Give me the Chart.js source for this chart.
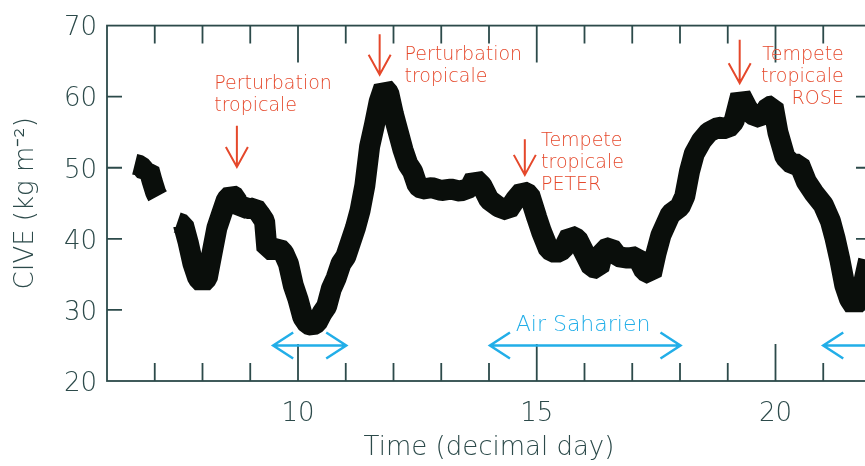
<!DOCTYPE html>
<html>
<head>
<meta charset="utf-8">
<script src="https://cdn.jsdelivr.net/npm/chart.js@4"></script>
<style>
  html, body { margin: 0; padding: 0; background: #fff; overflow: hidden; }
  #wrap { width: 880px; height: 466px; }
</style>
</head>
<body>
<div id="wrap"><canvas id="civeChart" width="880" height="466"></canvas></div>
<script>
/* ---------- Data ---------- */
const DAYS = [
  6.58, 6.7, 6.8, 6.88, 6.95, 7.02, 7.06,
  7.25,
  7.47, 7.6, 7.7, 7.8, 7.9, 8.0, 8.1, 8.2, 8.3, 8.4, 8.5, 8.6, 8.7, 8.75, 8.85,
  9.0, 9.1, 9.2, 9.3, 9.35, 9.5, 9.6, 9.7, 9.8, 9.9,
  10.0, 10.1, 10.2, 10.3, 10.4, 10.5, 10.6, 10.7, 10.8, 10.9,
  11.0, 11.1, 11.2, 11.3, 11.4, 11.5, 11.6, 11.7, 11.8, 11.9,
  12.0, 12.1, 12.2, 12.3, 12.4, 12.5, 12.6, 12.8,
  13.0, 13.2, 13.4, 13.6, 13.7, 13.85,
  14.0, 14.2, 14.4, 14.55, 14.7, 14.85,
  15.0, 15.1, 15.25, 15.4, 15.55, 15.7, 15.85,
  16.0, 16.15, 16.3, 16.4, 16.55, 16.7, 16.9,
  17.1, 17.25, 17.4, 17.5, 17.6, 17.8,
  18.0, 18.1, 18.2, 18.3, 18.45, 18.6, 18.8,
  19.0, 19.13, 19.27, 19.4, 19.5, 19.7, 19.85, 19.95,
  20.05, 20.2, 20.35, 20.5, 20.65, 20.8,
  21.0, 21.15, 21.25, 21.35, 21.45, 21.55, 21.65, 21.75, 21.85, 21.95
];
const CIVE = [
  50.5, 50.3, 49.5, 49.7, 48, 46.5, 46,
  null,
  42.3, 42.0, 39.5, 36.5, 34.5, 33.8, 34.5, 38, 41.5, 43.5, 45.5, 46.2, 45.8, 44.0, 44.5,
  44.2, 44.4, 43.5, 42.5, 38.5, 38.5, 38.7, 38.0, 36.5, 33.5,
  31.5, 29, 28, 27.8, 28.2, 29.5, 30.5, 33, 34.5, 36.5,
  37.5, 39.5, 41.5, 44, 47.5, 53, 56, 59.3, 61.3, 60.5,
  57.5, 55, 52.5, 50.5, 49.5, 47.5, 47, 47.2,
  46.8, 47, 46.7, 47.2, 48.5, 47.5,
  45.5, 44.5, 44, 45.5, 46.7, 46.2,
  43, 41, 38.5, 38, 38.5, 40.5, 40,
  38, 36, 35.8, 38.5, 38.8, 37.5, 37.3,
  37.5, 35.5, 35, 38, 40.5, 43.5,
  44.5, 46, 49.5, 52, 53.8, 55, 55.7,
  55.5, 56.5, 60.2, 58.5, 57.5, 57, 58.6, 58.7,
  55, 51.5, 50.5, 50.5, 48, 46.5,
  44.8, 42.5, 40, 37, 33.5, 31.5, 30.5, 31.5, 34, 37
];

const X_MIN = 6;
const X_MAX = 22;
const X_LABELS = [10, 15, 20];
const Y_TICKS = [20, 30, 40, 50, 60, 70];

/* red event notes: arrow day, arrow top / tip value, text lines */
const EVENT_LINES = [
  ["Perturbation", "tropicale"],
  ["Perturbation", "tropicale"],
  ["Tempete", "tropicale", "PETER"],
  ["Tempete", "tropicale", "ROSE"]
];
const EVENT_DAY = [8.72, 11.71, 14.75, 19.25];
const EVENT_FROM = [55.9, 68.8, 54.0, 68.0];
const EVENT_TO = [50.1, 63.1, 49.0, 61.9];
const EVENT_TEXT_DAY = [8.245, 12.23, 15.09, 21.43];
const EVENT_TEXT_VAL = [61.8, 65.8, 53.8, 65.8];

/* blue Saharan air spans */
const SAHARA_FROM = [9.48, 14.02, 21.0];
const SAHARA_TO = [11.01, 18.01, 22.6];
const SAHARA_VAL = 25;
const SAHARA_LABEL = "Air Saharien";
const SAHARA_LABEL_DAY = 15.97;
const SAHARA_LABEL_VAL = 27.8;

/* ---------- Styles ---------- */
const FONT = "'DejaVu Sans', sans-serif";
const LIGHT = "200";
const AXIS_COLOR = "#2c4a4a";
const RED = "#e5482b";
const BLUE = "#22aee8";

/* ---------- Plugins ---------- */
const framePlugin = {
  id: "frame",
  beforeDatasetsDraw(chart) {
    const { ctx, chartArea: a, scales: { x, y } } = chart;
    ctx.save();
    ctx.strokeStyle = AXIS_COLOR;
    ctx.lineWidth = 1.8;
    ctx.strokeRect(a.left, a.top, a.right - a.left, a.bottom - a.top);
    ctx.beginPath();
    for (let d = X_MIN + 1; d < X_MAX; d++) {
      const px = x.getPixelForValue(d);
      const len = d % 5 === 0 ? 37 : 18;
      ctx.moveTo(px, a.bottom); ctx.lineTo(px, a.bottom - len);
      ctx.moveTo(px, a.top); ctx.lineTo(px, a.top + len);
    }
    Y_TICKS.slice(1, -1).forEach(v => {
      const py = y.getPixelForValue(v);
      ctx.moveTo(a.left, py); ctx.lineTo(a.left + 15, py);
      ctx.moveTo(a.right, py); ctx.lineTo(a.right - 15, py);
    });
    ctx.stroke();
    ctx.restore();
  }
};

const notesPlugin = {
  id: "notes",
  afterDatasetsDraw(chart) {
    const { ctx, scales: { x, y } } = chart;
    ctx.save();

    // red arrows + text
    ctx.strokeStyle = RED;
    ctx.fillStyle = RED;
    ctx.lineWidth = 2;
    ctx.font = LIGHT + " 19px " + FONT;
    ctx.textBaseline = "middle";
    EVENT_DAY.forEach((d, i) => {
      const px = x.getPixelForValue(d);
      const top = y.getPixelForValue(EVENT_FROM[i]);
      const tip = y.getPixelForValue(EVENT_TO[i]);
      ctx.beginPath();
      ctx.moveTo(px, top); ctx.lineTo(px, tip);
      ctx.moveTo(px - 11, tip - 20); ctx.lineTo(px, tip); ctx.lineTo(px + 11, tip - 20);
      ctx.stroke();

      const tx = x.getPixelForValue(EVENT_TEXT_DAY[i]);
      const ty = y.getPixelForValue(EVENT_TEXT_VAL[i]);
      ctx.textAlign = i === 3 ? "right" : "left";
      EVENT_LINES[i].forEach((line, k) => ctx.fillText(line, tx, ty + k * 22));
    });

    // blue double arrows
    ctx.strokeStyle = BLUE;
    ctx.fillStyle = BLUE;
    ctx.lineWidth = 2.5;
    const py = y.getPixelForValue(SAHARA_VAL);
    SAHARA_FROM.forEach((d, i) => {
      const x1 = x.getPixelForValue(d);
      const x2 = x.getPixelForValue(SAHARA_TO[i]);
      ctx.beginPath();
      ctx.moveTo(x1, py); ctx.lineTo(x2, py);
      ctx.moveTo(x1 + 20, py - 13); ctx.lineTo(x1, py); ctx.lineTo(x1 + 20, py + 13);
      ctx.moveTo(x2 - 20, py - 13); ctx.lineTo(x2, py); ctx.lineTo(x2 - 20, py + 13);
      ctx.stroke();
    });
    ctx.font = LIGHT + " 22px " + FONT;
    ctx.textAlign = "center";
    ctx.fillText(SAHARA_LABEL, x.getPixelForValue(SAHARA_LABEL_DAY), y.getPixelForValue(SAHARA_LABEL_VAL));
    ctx.restore();
  }
};

/* ---------- Chart ---------- */
const points = DAYS.map((d, i) => ({ x: d, y: CIVE[i] }));

new Chart(document.getElementById("civeChart"), {
  type: "line",
  data: {
    datasets: [{
      data: points,
      borderColor: "#0a0e0b",
      borderWidth: 21,
      borderJoinStyle: "bevel",
      borderCapStyle: "butt",
      pointRadius: 0,
      tension: 0,
      spanGaps: false
    }]
  },
  options: {
    responsive: false,
    animation: false,
    devicePixelRatio: 1,
    layout: { padding: { top: 11, right: 9, left: 0, bottom: 0 } },
    plugins: { legend: { display: false }, tooltip: { enabled: false } },
    scales: {
      x: {
        type: "linear",
        min: X_MIN,
        max: X_MAX,
        afterBuildTicks: s => { s.ticks = X_LABELS.map(v => ({ value: v })); },
        afterFit: s => { s.height = 85; },
        grid: { display: false, drawTicks: false },
        border: { display: false },
        ticks: { color: AXIS_COLOR, font: { family: FONT, size: 26, weight: LIGHT }, padding: 18, maxRotation: 0 },
        title: {
          display: true,
          text: "Time (decimal day)",
          color: AXIS_COLOR,
          font: { family: FONT, size: 26, weight: LIGHT, lineHeight: 1.2 },
          padding: { top: 0, bottom: 2 }
        }
      },
      y: {
        min: 20,
        max: 70,
        afterBuildTicks: s => { s.ticks = Y_TICKS.map(v => ({ value: v })); },
        afterFit: s => { s.width = 107; },
        grid: { display: false, drawTicks: false },
        border: { display: false },
        ticks: { color: AXIS_COLOR, font: { family: FONT, size: 26, weight: LIGHT }, padding: 10, labelOffset: 3 },
        title: {
          display: true,
          text: "CIVE (kg m⁻²)",
          color: AXIS_COLOR,
          font: { family: FONT, size: 26, weight: LIGHT, lineHeight: 1.2 },
          padding: { top: 11, bottom: 0 }
        }
      }
    }
  },
  plugins: [framePlugin, notesPlugin]
});
</script>
</body>
</html>
